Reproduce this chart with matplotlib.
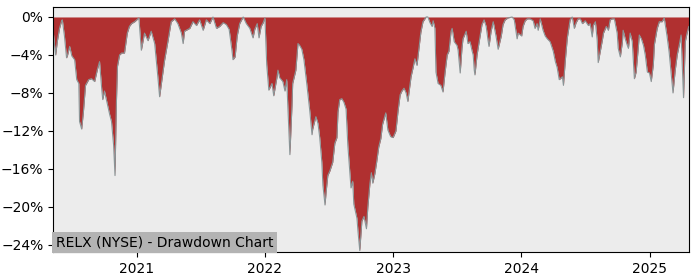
import numpy as np
import pandas as pd
import matplotlib
matplotlib.use("Agg")
import matplotlib.pyplot as plt
from matplotlib.ticker import FuncFormatter

# drawdown readings (percent below running peak)
dates = [
    "2020-05-08", "2020-05-12", "2020-05-15", "2020-05-20", "2020-05-26", "2020-06-01", "2020-06-03",
    "2020-06-09", "2020-06-15", "2020-06-18", "2020-06-24", "2020-06-30", "2020-07-08", "2020-07-14",
    "2020-07-20", "2020-07-22", "2020-07-28", "2020-08-02", "2020-08-08", "2020-08-17", "2020-08-25",
    "2020-09-03", "2020-09-11", "2020-09-17", "2020-09-23", "2020-09-26", "2020-10-01", "2020-10-07",
    "2020-10-16", "2020-10-21", "2020-10-27", "2020-10-31", "2020-11-04", "2020-11-07", "2020-11-13",
    "2020-11-19", "2020-11-27", "2020-12-05", "2020-12-11", "2020-12-17", "2020-12-26",
    "2021-01-07", "2021-01-14", "2021-01-23", "2021-02-02", "2021-02-11", "2021-02-21", "2021-03-02",
    "2021-03-07", "2021-03-14", "2021-03-21", "2021-03-31", "2021-04-09", "2021-04-19", "2021-04-28",
    "2021-05-08", "2021-05-13", "2021-05-17", "2021-06-01", "2021-06-10", "2021-06-20", "2021-06-29",
    "2021-07-09", "2021-07-18", "2021-07-28", "2021-08-06", "2021-08-16", "2021-08-25", "2021-09-04",
    "2021-09-13", "2021-09-21", "2021-09-29", "2021-10-02", "2021-10-08", "2021-10-14", "2021-10-21",
    "2021-10-31", "2021-11-09", "2021-11-19", "2021-11-28", "2021-12-03", "2021-12-10", "2021-12-15",
    "2021-12-21", "2021-12-27",
    "2022-01-01", "2022-01-06", "2022-01-12", "2022-01-21", "2022-01-26", "2022-02-04", "2022-02-07",
    "2022-02-12", "2022-02-21", "2022-02-27", "2022-03-04", "2022-03-07", "2022-03-13", "2022-03-19",
    "2022-03-21", "2022-03-30", "2022-04-05", "2022-04-10", "2022-04-16", "2022-04-22", "2022-04-30",
    "2022-05-09", "2022-05-15", "2022-05-17", "2022-05-26", "2022-06-01", "2022-06-06", "2022-06-12",
    "2022-06-15", "2022-06-21", "2022-06-24", "2022-06-29", "2022-07-05", "2022-07-13", "2022-07-19",
    "2022-07-25", "2022-07-28", "2022-08-02", "2022-08-08", "2022-08-14", "2022-08-20", "2022-08-25",
    "2022-09-03", "2022-09-08", "2022-09-11", "2022-09-20", "2022-09-23", "2022-09-28", "2022-10-04",
    "2022-10-10", "2022-10-17", "2022-10-21", "2022-10-27", "2022-10-31", "2022-11-04", "2022-11-10",
    "2022-11-15", "2022-11-21", "2022-11-27", "2022-12-02", "2022-12-11", "2022-12-17", "2022-12-25",
    "2023-01-01", "2023-01-09", "2023-01-15", "2023-01-21", "2023-01-26", "2023-02-01", "2023-02-07",
    "2023-02-12", "2023-02-15", "2023-02-21", "2023-02-27", "2023-03-04", "2023-03-10", "2023-03-13",
    "2023-03-21", "2023-03-27", "2023-04-05", "2023-04-10", "2023-04-16", "2023-04-22", "2023-04-25",
    "2023-04-30", "2023-05-03", "2023-05-09", "2023-05-17", "2023-05-23", "2023-05-29", "2023-06-04",
    "2023-06-09", "2023-06-15", "2023-06-18", "2023-06-24", "2023-07-02", "2023-07-05", "2023-07-11",
    "2023-07-16", "2023-07-19", "2023-07-28", "2023-08-02", "2023-08-08", "2023-08-14", "2023-08-17",
    "2023-08-20", "2023-08-22", "2023-08-28", "2023-09-03", "2023-09-11", "2023-09-17", "2023-09-23",
    "2023-09-28", "2023-10-01", "2023-10-07", "2023-10-13", "2023-10-21", "2023-10-27", "2023-11-05",
    "2023-11-10", "2023-11-16", "2023-11-24", "2023-12-06", "2023-12-12", "2023-12-20", "2023-12-23",
    "2024-01-02", "2024-01-06", "2024-01-12", "2024-01-18", "2024-01-26", "2024-02-04", "2024-02-09",
    "2024-02-15", "2024-02-18", "2024-02-24", "2024-03-03", "2024-03-09", "2024-03-15", "2024-03-23",
    "2024-04-01", "2024-04-07", "2024-04-12", "2024-04-18", "2024-04-27", "2024-04-30", "2024-05-05",
    "2024-05-11", "2024-05-19", "2024-05-25", "2024-05-31", "2024-06-05", "2024-06-11", "2024-06-17",
    "2024-06-23", "2024-07-01", "2024-07-10", "2024-07-15", "2024-07-21", "2024-07-24", "2024-07-30",
    "2024-08-04", "2024-08-07", "2024-08-13", "2024-08-19", "2024-08-22", "2024-08-30", "2024-09-05",
    "2024-09-10", "2024-09-16", "2024-09-22", "2024-09-30", "2024-10-03", "2024-10-09", "2024-10-15",
    "2024-10-17", "2024-10-23", "2024-10-29", "2024-11-01", "2024-11-06", "2024-11-12", "2024-11-18",
    "2024-11-23", "2024-11-29", "2024-12-02", "2024-12-08", "2024-12-14", "2024-12-19", "2024-12-25",
    "2024-12-31", "2025-01-05", "2025-01-11", "2025-01-14", "2025-01-22", "2025-01-28", "2025-02-05",
    "2025-02-11", "2025-02-19", "2025-02-25", "2025-03-03", "2025-03-08", "2025-03-14", "2025-03-20",
    "2025-03-26", "2025-03-31", "2025-04-03", "2025-04-07", "2025-04-12", "2025-04-17", "2025-04-22",
]
drawdown = [
    -1.5, -3.0, -4.0, -2.5, -1.2, -0.4, -0.3,
    -2.0, -4.3, -4.0, -3.1, -4.1, -4.5, -6.6,
    -7.0, -11.0, -11.8, -10.0, -7.2, -6.6, -6.5,
    -6.8, -5.5, -4.7, -7.5, -8.7, -7.8, -8.8,
    -10.3, -11.0, -13.5, -16.7, -9.0, -5.2, -4.0,
    -3.8, -3.8, -1.7, -1.0, -0.7, -0.5,
    -0.1, -3.5, -1.7, -2.5, -1.5, -2.8, -6.3,
    -8.4, -6.5, -4.6, -2.5, -0.5, -0.2, -0.7,
    -1.7, -2.8, -1.5, -1.2, -0.5, -0.9, -0.3,
    -1.4, -0.3, -0.7, 0.0, -1.2, -1.0, -0.6,
    -0.8, -1.3, -3.5, -4.5, -4.2, -2.0, -0.7,
    0.0, -0.7, -1.2, -2.2, -1.3, -0.7, -2.2,
    -1.0, -0.6,
    -0.1, -5.0, -7.7, -7.0, -8.3, -6.4, -5.6,
    -6.4, -6.8, -7.8, -6.6, -9.3, -14.5, -9.3,
    -7.0, -5.6, -2.8, -3.0, -3.4, -4.5, -7.0,
    -10.0, -12.4, -11.8, -10.5, -11.2, -12.7, -15.3,
    -17.7, -19.8, -18.5, -16.7, -16.2, -15.3, -13.3,
    -12.7, -10.0, -8.7, -8.6, -9.0, -9.7, -13.5,
    -18.0, -17.3, -19.7, -21.2, -22.6, -24.6, -21.5,
    -21.0, -22.3, -20.0, -17.5, -16.4, -17.5, -16.5,
    -15.3, -13.7, -12.8, -11.3, -10.1, -11.9, -12.6,
    -12.7, -12.0, -9.9, -8.2, -7.8, -7.5, -8.0,
    -8.9, -8.0, -6.3, -5.3, -4.4, -5.1, -4.1,
    -1.6, -0.5, 0.0, 0.0, -0.6, -1.0, -0.4,
    -1.2, -5.8, -7.0, -7.2, -7.9, -5.8, -4.0,
    -3.6, -1.5, -1.2, -2.6, -3.0, -3.5, -5.9,
    -3.3, -2.3, -1.5, -2.8, -2.6, -3.6, -4.0,
    -5.6, -6.1, -4.0, -2.6, -0.8, -0.3, -1.0,
    -2.4, -3.1, -1.5, -0.5, -2.0, -3.4, -2.0,
    -0.8, -0.3, -0.1, 0.0, -0.3, -2.3, -1.7,
    -2.0, -1.0, -0.4, -0.2, -0.2, -0.4, -1.2,
    -0.7, -1.4, -0.2, -1.4, -2.0, -2.3, -2.6,
    -3.6, -4.7, -5.3, -6.6, -6.3, -7.2, -4.7,
    -2.2, -0.3, 0.0, -1.2, -0.6, -0.2, -0.2,
    -0.7, -0.4, -0.9, -0.7, -2.1, -0.9, -0.5,
    -2.4, -4.8, -3.6, -2.4, -1.7, -1.0, -1.4,
    -0.3, -0.2, -0.2, -1.7, -3.3, -4.2, -2.6,
    -1.4, -2.3, -3.0, -3.3, -1.7, -2.6, -6.5,
    -5.8, -3.3, -1.9, -2.3, -3.0, -4.0, -5.8,
    -5.9, -6.8, -5.0, -2.9, -1.2, -0.5, -0.5,
    -0.1, -2.0, -3.7, -6.0, -8.0, -5.7, -4.0,
    -2.9, -1.9, -4.8, -8.5, -2.6, -1.7, -1.0,
]
title = "RELX (NYSE) - Drawdown Chart"
yticks = [0, -4, -8, -12, -16, -20, -24]

s = pd.Series(drawdown, index=pd.to_datetime(dates))

fig = plt.figure(figsize=(7, 2.8), dpi=100)
ax = fig.add_axes([0.076, 0.1, 0.908, 0.875])
ax.set_facecolor("#ececec")

ax.fill_between(s.index, 0, s.values, color="#b03030", linewidth=0)
ax.plot(s.index, s.values, color="#8a9597", linewidth=0.8)

ax.set_xlim(s.index[0], s.index[-1])
ax.set_ylim(-24.75, 1.05)
ax.set_yticks(yticks)
ax.yaxis.set_major_formatter(FuncFormatter(lambda v, p: f"{v:.0f}%".replace("-", "\u2212")))
ax.set_xticks(pd.to_datetime(["2021-01-01", "2022-01-01", "2023-01-01", "2024-01-01", "2025-01-01"]))
ax.set_xticklabels(["2021", "2022", "2023", "2024", "2025"])
ax.tick_params(labelsize=10)

ax.text(0.004, 0.012, title, transform=ax.transAxes, fontsize=10, ha="left", va="bottom",
        bbox=dict(facecolor="#b3b3b3", edgecolor="none", pad=2.5))

fig.savefig("out.png", dpi=100)
